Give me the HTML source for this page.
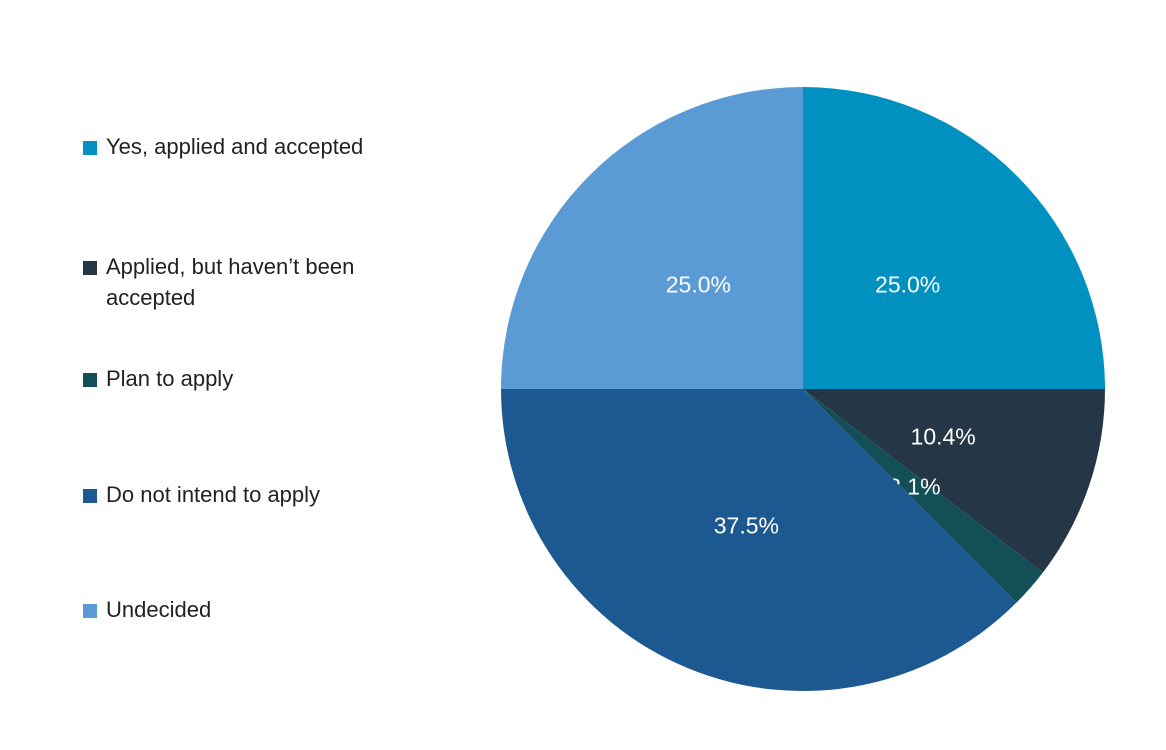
<!DOCTYPE html>
<html><head><meta charset="utf-8"><style>
body{margin:0;background:#fff;width:1166px;height:750px;overflow:hidden;font-family:"Liberation Sans",sans-serif}
.leg{position:absolute;left:83px;font-size:22px;color:#222;line-height:31px}
.sw{position:absolute;left:0;top:10px;width:14px;height:14px}
.lt{position:absolute;left:23px;top:0;white-space:nowrap}
</style></head><body>
<div id="legend"></div>
<svg id="chart" width="1166" height="750" style="position:absolute;left:0;top:0"></svg>
<script>
const categories=["Yes, applied and accepted","Applied, but haven’t been accepted","Plan to apply","Do not intend to apply","Undecided"];
const values=[25.0,10.4,2.1,37.5,25.0];
const colors=["#0091c1","#253746","#134f57","#1c5990","#5b9bd5"];
const legendTops=[131,251,363,479,594];
const cx=803,cy=389,R=302,LR=148;
const svg=document.getElementById('chart');
const ns="http://www.w3.org/2000/svg";
const total=values.reduce((a,b)=>a+b,0);
let acc=0;
values.forEach((v,i)=>{
  const a0=acc/total*2*Math.PI, a1=(acc+v)/total*2*Math.PI; acc+=v;
  const x0=cx+R*Math.sin(a0),y0=cy-R*Math.cos(a0),x1=cx+R*Math.sin(a1),y1=cy-R*Math.cos(a1);
  const p=document.createElementNS(ns,'path');
  p.setAttribute('d',`M${cx},${cy} L${x0},${y0} A${R},${R} 0 ${a1-a0>Math.PI?1:0} 1 ${x1},${y1} Z`);
  p.setAttribute('fill',colors[i]);
  
  
  svg.appendChild(p);
  const am=(a0+a1)/2;
  const t=document.createElementNS(ns,'text');
  t.setAttribute('x',cx+LR*Math.sin(am));t.setAttribute('y',cy-LR*Math.cos(am)+8);
  t.setAttribute('text-anchor','middle');t.setAttribute('fill','#fff');t.setAttribute('font-size','23');
  t.setAttribute('font-family','Liberation Sans, sans-serif');
  t.textContent=v.toFixed(1)+'%';
  
  
  svg.appendChild(t);
});
const leg=document.getElementById('legend');
categories.forEach((c,i)=>{
  const d=document.createElement('div');d.className='leg';d.style.top=legendTops[i]+'px';
  
  
  const s=document.createElement('div');s.className='sw';s.style.background=colors[i];
  const l=document.createElement('div');l.className='lt';
  l.innerHTML=i==1?'Applied, but haven’t been<br>accepted':c;
  d.appendChild(s);d.appendChild(l);leg.appendChild(d);
});
</script>
</body></html>
